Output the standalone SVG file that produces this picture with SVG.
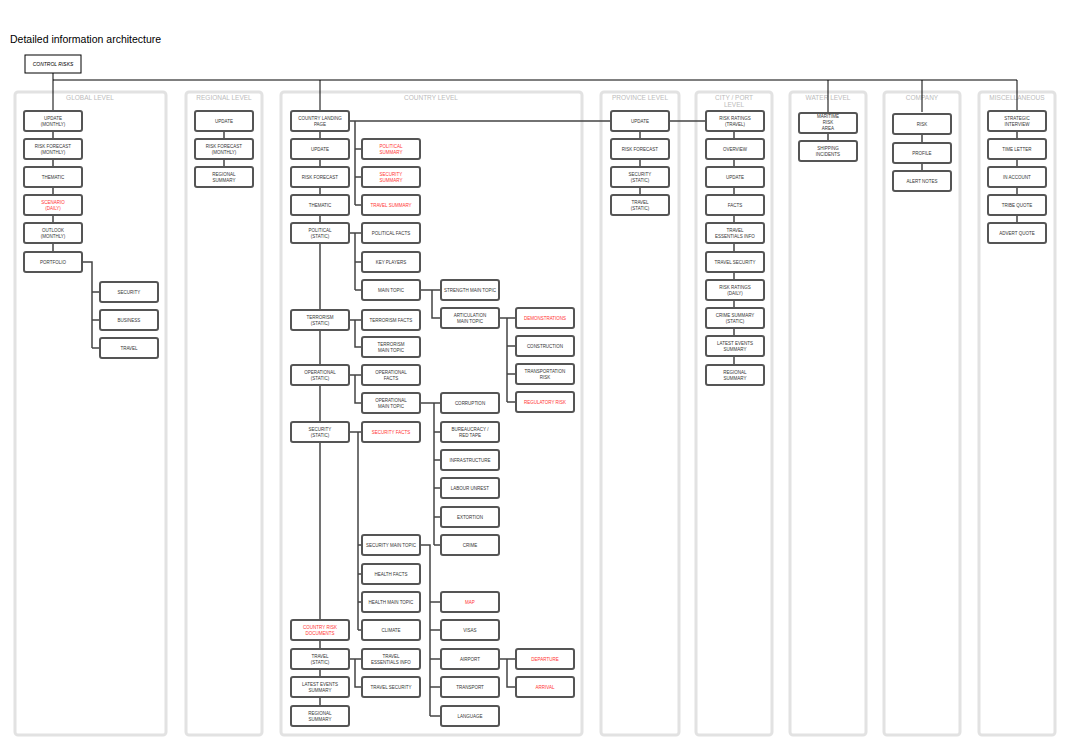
<svg xmlns="http://www.w3.org/2000/svg" width="1070" height="748" viewBox="0 0 1070 748">
<style>
.col{fill:#fff;stroke:#e2e2e2;stroke-width:3}
.hd{font-family:"Liberation Sans",Arial,sans-serif;font-size:6.5px;fill:#bbb;text-anchor:middle}
.n{fill:#fff;stroke:#555;stroke-width:2}
.t{font-family:"Liberation Sans",Arial,sans-serif;font-size:4.5px;fill:#333;text-anchor:middle}
.r{fill:#f33}
.c{fill:none;stroke:#444;stroke-width:1.5}
.k{fill:none;stroke:#000;stroke-width:1}
</style>
<rect width="1070" height="748" fill="#fff"/>
<text x="10" y="43" font-family="Liberation Sans,Arial,sans-serif" font-size="10.5">Detailed information architecture</text>
<g id="cols">
<rect class="col" x="15" y="92" width="151" height="643" rx="3"/><text class="hd" x="90" y="100">GLOBAL LEVEL</text>
<rect class="col" x="186" y="92" width="76" height="643" rx="3"/><text class="hd" x="224" y="100">REGIONAL LEVEL</text>
<rect class="col" x="281" y="92" width="301" height="643" rx="3"/><text class="hd" x="431" y="100">COUNTRY LEVEL</text>
<rect class="col" x="601" y="92" width="78" height="643" rx="3"/><text class="hd" x="640" y="100">PROVINCE LEVEL</text>
<rect class="col" x="696" y="92" width="76" height="643" rx="3"/><text class="hd" x="734" y="100">CITY / PORT</text><text class="hd" x="734" y="107">LEVEL</text>
<rect class="col" x="790" y="92" width="76" height="643" rx="3"/><text class="hd" x="828" y="100">WATER LEVEL</text>
<rect class="col" x="884" y="92" width="76" height="643" rx="3"/><text class="hd" x="922" y="100">COMPANY</text>
<rect class="col" x="979" y="92" width="76" height="643" rx="3"/><text class="hd" x="1017" y="100">MISCELLANEOUS</text>
</g>
<g id="connectors">
<path class="k" d="M53 73V112M53 80H1017M320 80V112M828 80V112M922 80V112M1017 80V112"/>
<path class="c" d="M53 121V262M82 262H92V348M92 292H100M92 320H100M92 348H100"/>
<path class="c" d="M224 121V177"/>
<path class="c" d="M320 121V716M349 121H706M355 121V205M355 149H362M355 177H362M355 205H362"/>
<path class="c" d="M349 233H355V290M355 233H362M355 262H362M355 290H362M420 290H432V318H441M432 290H441M499 318H507V402M507 318H516M507 346H516M507 374H516M507 402H516"/>
<path class="c" d="M349 320H355V347H362M355 320H362"/>
<path class="c" d="M349 375H355V403H362M355 375H362M420 403H434V545M434 403H441M434 432H441M434 460H441M434 488H441M434 517H441M434 545H441"/>
<path class="c" d="M349 432H358V630M358 432H362M358 545H362M358 574H362M358 602H362M358 630H362M420 545H430V716M430 602H441M430 630H441M430 659H441M430 687H441M430 716H441M499 659H507V687H516M507 659H516"/>
<path class="c" d="M349 659H355V687H362M355 659H362"/>
<path class="c" d="M640 121V205M734 121V375M828 121V149M922 121V177M1017 121V233"/>
</g>
<g id="n-control"><rect x="25" y="55" width="56" height="18" fill="#fff" stroke="#000" stroke-width="1"/><text x="53" y="66" font-family="Liberation Sans,Arial,sans-serif" font-size="5" font-style="italic" text-anchor="middle">CONTROL RISKS</text></g>
<g id="g1"><rect class="n" x="24" y="111" width="58" height="20" rx="2"/><text class="t" x="53" y="120">UPDATE</text><text class="t" x="53" y="126">(MONTHLY)</text></g>
<g id="g2"><rect class="n" x="24" y="139" width="58" height="20" rx="2"/><text class="t" x="53" y="148">RISK FORECAST</text><text class="t" x="53" y="154">(MONTHLY)</text></g>
<g id="g3"><rect class="n" x="24" y="167" width="58" height="20" rx="2"/><text class="t" x="53" y="179">THEMATIC</text></g>
<g id="g4"><rect class="n" x="24" y="195" width="58" height="20" rx="2"/><text class="t r" x="53" y="204">SCENARIO</text><text class="t r" x="53" y="210">(DAILY)</text></g>
<g id="g5"><rect class="n" x="24" y="223" width="58" height="20" rx="2"/><text class="t" x="53" y="232">OUTLOOK</text><text class="t" x="53" y="238">(MONTHLY)</text></g>
<g id="g6"><rect class="n" x="24" y="252" width="58" height="20" rx="2"/><text class="t" x="53" y="264">PORTFOLIO</text></g>
<g id="g7"><rect class="n" x="100" y="282" width="58" height="20" rx="2"/><text class="t" x="129" y="294">SECURITY</text></g>
<g id="g8"><rect class="n" x="100" y="310" width="58" height="20" rx="2"/><text class="t" x="129" y="322">BUSINESS</text></g>
<g id="g9"><rect class="n" x="100" y="338" width="58" height="20" rx="2"/><text class="t" x="129" y="350">TRAVEL</text></g>
<g id="r1"><rect class="n" x="195" y="111" width="58" height="20" rx="2"/><text class="t" x="224" y="123">UPDATE</text></g>
<g id="r2"><rect class="n" x="195" y="139" width="58" height="20" rx="2"/><text class="t" x="224" y="148">RISK FORECAST</text><text class="t" x="224" y="154">(MONTHLY)</text></g>
<g id="r3"><rect class="n" x="195" y="167" width="58" height="20" rx="2"/><text class="t" x="224" y="176">REGIONAL</text><text class="t" x="224" y="182">SUMMARY</text></g>
<g id="c1"><rect class="n" x="291" y="111" width="58" height="20" rx="2"/><text class="t" x="320" y="120">COUNTRY LANDING</text><text class="t" x="320" y="126">PAGE</text></g>
<g id="c2"><rect class="n" x="291" y="139" width="58" height="20" rx="2"/><text class="t" x="320" y="151">UPDATE</text></g>
<g id="c3"><rect class="n" x="291" y="167" width="58" height="20" rx="2"/><text class="t" x="320" y="179">RISK FORECAST</text></g>
<g id="c4"><rect class="n" x="291" y="195" width="58" height="20" rx="2"/><text class="t" x="320" y="207">THEMATIC</text></g>
<g id="c5"><rect class="n" x="291" y="223" width="58" height="20" rx="2"/><text class="t" x="320" y="232">POLITICAL</text><text class="t" x="320" y="238">(STATIC)</text></g>
<g id="c6"><rect class="n" x="291" y="310" width="58" height="20" rx="2"/><text class="t" x="320" y="319">TERRORISM</text><text class="t" x="320" y="325">(STATIC)</text></g>
<g id="c7"><rect class="n" x="291" y="365" width="58" height="20" rx="2"/><text class="t" x="320" y="374">OPERATIONAL</text><text class="t" x="320" y="380">(STATIC)</text></g>
<g id="c8"><rect class="n" x="291" y="422" width="58" height="20" rx="2"/><text class="t" x="320" y="431">SECURITY</text><text class="t" x="320" y="437">(STATIC)</text></g>
<g id="c9"><rect class="n" x="291" y="620" width="58" height="20" rx="2"/><text class="t r" x="320" y="629">COUNTRY RISK</text><text class="t r" x="320" y="635">DOCUMENTS</text></g>
<g id="c10"><rect class="n" x="291" y="649" width="58" height="20" rx="2"/><text class="t" x="320" y="658">TRAVEL</text><text class="t" x="320" y="664">(STATIC)</text></g>
<g id="c11"><rect class="n" x="291" y="677" width="58" height="20" rx="2"/><text class="t" x="320" y="686">LATEST EVENTS</text><text class="t" x="320" y="692">SUMMARY</text></g>
<g id="c12"><rect class="n" x="291" y="706" width="58" height="20" rx="2"/><text class="t" x="320" y="715">REGIONAL</text><text class="t" x="320" y="721">SUMMARY</text></g>
<g id="d1"><rect class="n" x="362" y="139" width="58" height="20" rx="2"/><text class="t r" x="391" y="148">POLITICAL</text><text class="t r" x="391" y="154">SUMMARY</text></g>
<g id="d2"><rect class="n" x="362" y="167" width="58" height="20" rx="2"/><text class="t r" x="391" y="176">SECURITY</text><text class="t r" x="391" y="182">SUMMARY</text></g>
<g id="d3"><rect class="n" x="362" y="195" width="58" height="20" rx="2"/><text class="t r" x="391" y="207">TRAVEL SUMMARY</text></g>
<g id="d4"><rect class="n" x="362" y="223" width="58" height="20" rx="2"/><text class="t" x="391" y="235">POLITICAL FACTS</text></g>
<g id="d5"><rect class="n" x="362" y="252" width="58" height="20" rx="2"/><text class="t" x="391" y="264">KEY PLAYERS</text></g>
<g id="d6"><rect class="n" x="362" y="280" width="58" height="20" rx="2"/><text class="t" x="391" y="292">MAIN TOPIC</text></g>
<g id="d7"><rect class="n" x="362" y="310" width="58" height="20" rx="2"/><text class="t" x="391" y="322">TERRORISM FACTS</text></g>
<g id="d8"><rect class="n" x="362" y="337" width="58" height="20" rx="2"/><text class="t" x="391" y="346">TERRORISM</text><text class="t" x="391" y="352">MAIN TOPIC</text></g>
<g id="d9"><rect class="n" x="362" y="365" width="58" height="20" rx="2"/><text class="t" x="391" y="374">OPERATIONAL</text><text class="t" x="391" y="380">FACTS</text></g>
<g id="d10"><rect class="n" x="362" y="393" width="58" height="20" rx="2"/><text class="t" x="391" y="402">OPERATIONAL</text><text class="t" x="391" y="408">MAIN TOPIC</text></g>
<g id="d11"><rect class="n" x="362" y="422" width="58" height="20" rx="2"/><text class="t r" x="391" y="434">SECURITY FACTS</text></g>
<g id="d12"><rect class="n" x="362" y="535" width="58" height="20" rx="2"/><text class="t" x="391" y="547">SECURITY MAIN TOPIC</text></g>
<g id="d13"><rect class="n" x="362" y="564" width="58" height="20" rx="2"/><text class="t" x="391" y="576">HEALTH FACTS</text></g>
<g id="d14"><rect class="n" x="362" y="592" width="58" height="20" rx="2"/><text class="t" x="391" y="604">HEALTH MAIN TOPIC</text></g>
<g id="d15"><rect class="n" x="362" y="620" width="58" height="20" rx="2"/><text class="t" x="391" y="632">CLIMATE</text></g>
<g id="d16"><rect class="n" x="362" y="649" width="58" height="20" rx="2"/><text class="t" x="391" y="658">TRAVEL</text><text class="t" x="391" y="664">ESSENTIALS INFO</text></g>
<g id="d17"><rect class="n" x="362" y="677" width="58" height="20" rx="2"/><text class="t" x="391" y="689">TRAVEL SECURITY</text></g>
<g id="e1"><rect class="n" x="441" y="280" width="58" height="20" rx="2"/><text class="t" x="470" y="292">STRENGTH MAIN TOPIC</text></g>
<g id="e2"><rect class="n" x="441" y="308" width="58" height="20" rx="2"/><text class="t" x="470" y="317">ARTICULATION</text><text class="t" x="470" y="323">MAIN TOPIC</text></g>
<g id="e3"><rect class="n" x="441" y="393" width="58" height="20" rx="2"/><text class="t" x="470" y="405">CORRUPTION</text></g>
<g id="e4"><rect class="n" x="441" y="422" width="58" height="20" rx="2"/><text class="t" x="470" y="431">BUREAUCRACY /</text><text class="t" x="470" y="437">RED TAPE</text></g>
<g id="e5"><rect class="n" x="441" y="450" width="58" height="20" rx="2"/><text class="t" x="470" y="462">INFRASTRUCTURE</text></g>
<g id="e6"><rect class="n" x="441" y="478" width="58" height="20" rx="2"/><text class="t" x="470" y="490">LABOUR UNREST</text></g>
<g id="e7"><rect class="n" x="441" y="507" width="58" height="20" rx="2"/><text class="t" x="470" y="519">EXTORTION</text></g>
<g id="e8"><rect class="n" x="441" y="535" width="58" height="20" rx="2"/><text class="t" x="470" y="547">CRIME</text></g>
<g id="e9"><rect class="n" x="441" y="592" width="58" height="20" rx="2"/><text class="t r" x="470" y="604">MAP</text></g>
<g id="e10"><rect class="n" x="441" y="620" width="58" height="20" rx="2"/><text class="t" x="470" y="632">VISAS</text></g>
<g id="e11"><rect class="n" x="441" y="649" width="58" height="20" rx="2"/><text class="t" x="470" y="661">AIRPORT</text></g>
<g id="e12"><rect class="n" x="441" y="677" width="58" height="20" rx="2"/><text class="t" x="470" y="689">TRANSPORT</text></g>
<g id="e13"><rect class="n" x="441" y="706" width="58" height="20" rx="2"/><text class="t" x="470" y="718">LANGUAGE</text></g>
<g id="f1"><rect class="n" x="516" y="308" width="58" height="20" rx="2"/><text class="t r" x="545" y="320">DEMONSTRATIONS</text></g>
<g id="f2"><rect class="n" x="516" y="336" width="58" height="20" rx="2"/><text class="t" x="545" y="348">CONSTRUCTION</text></g>
<g id="f3"><rect class="n" x="516" y="364" width="58" height="20" rx="2"/><text class="t" x="545" y="373">TRANSPORTATION</text><text class="t" x="545" y="379">RISK</text></g>
<g id="f4"><rect class="n" x="516" y="392" width="58" height="20" rx="2"/><text class="t r" x="545" y="404">REGULATORY RISK</text></g>
<g id="f5"><rect class="n" x="516" y="649" width="58" height="20" rx="2"/><text class="t r" x="545" y="661">DEPARTURE</text></g>
<g id="f6"><rect class="n" x="516" y="677" width="58" height="20" rx="2"/><text class="t r" x="545" y="689">ARRIVAL</text></g>
<g id="p1"><rect class="n" x="611" y="111" width="58" height="20" rx="2"/><text class="t" x="640" y="123">UPDATE</text></g>
<g id="p2"><rect class="n" x="611" y="139" width="58" height="20" rx="2"/><text class="t" x="640" y="151">RISK FORECAST</text></g>
<g id="p3"><rect class="n" x="611" y="167" width="58" height="20" rx="2"/><text class="t" x="640" y="176">SECURITY</text><text class="t" x="640" y="182">(STATIC)</text></g>
<g id="p4"><rect class="n" x="611" y="195" width="58" height="20" rx="2"/><text class="t" x="640" y="204">TRAVEL</text><text class="t" x="640" y="210">(STATIC)</text></g>
<g id="y1"><rect class="n" x="706" y="111" width="58" height="20" rx="2"/><text class="t" x="735" y="120">RISK RATINGS</text><text class="t" x="735" y="126">(TRAVEL)</text></g>
<g id="y2"><rect class="n" x="706" y="139" width="58" height="20" rx="2"/><text class="t" x="735" y="151">OVERVIEW</text></g>
<g id="y3"><rect class="n" x="706" y="167" width="58" height="20" rx="2"/><text class="t" x="735" y="179">UPDATE</text></g>
<g id="y4"><rect class="n" x="706" y="195" width="58" height="20" rx="2"/><text class="t" x="735" y="207">FACTS</text></g>
<g id="y5"><rect class="n" x="706" y="223" width="58" height="20" rx="2"/><text class="t" x="735" y="232">TRAVEL</text><text class="t" x="735" y="238">ESSENTIALS INFO</text></g>
<g id="y6"><rect class="n" x="706" y="252" width="58" height="20" rx="2"/><text class="t" x="735" y="264">TRAVEL SECURITY</text></g>
<g id="y7"><rect class="n" x="706" y="280" width="58" height="20" rx="2"/><text class="t" x="735" y="289">RISK RATINGS</text><text class="t" x="735" y="295">(DAILY)</text></g>
<g id="y8"><rect class="n" x="706" y="308" width="58" height="20" rx="2"/><text class="t" x="735" y="317">CRIME SUMMARY</text><text class="t" x="735" y="323">(STATIC)</text></g>
<g id="y9"><rect class="n" x="706" y="336" width="58" height="20" rx="2"/><text class="t" x="735" y="345">LATEST EVENTS</text><text class="t" x="735" y="351">SUMMARY</text></g>
<g id="y10"><rect class="n" x="706" y="365" width="58" height="20" rx="2"/><text class="t" x="735" y="374">REGIONAL</text><text class="t" x="735" y="380">SUMMARY</text></g>
<g id="w1"><rect class="n" x="799" y="113" width="58" height="20" rx="2"/><text class="t" x="828" y="118">MARITIME</text><text class="t" x="828" y="124">RISK</text><text class="t" x="828" y="130">AREA</text></g>
<g id="w2"><rect class="n" x="799" y="141" width="58" height="20" rx="2"/><text class="t" x="828" y="150">SHIPPING</text><text class="t" x="828" y="156">INCIDENTS</text></g>
<g id="m1"><rect class="n" x="893" y="114" width="58" height="20" rx="2"/><text class="t" x="922" y="126">RISK</text></g>
<g id="m2"><rect class="n" x="893" y="143" width="58" height="20" rx="2"/><text class="t" x="922" y="155">PROFILE</text></g>
<g id="m3"><rect class="n" x="893" y="171" width="58" height="20" rx="2"/><text class="t" x="922" y="183">ALERT NOTES</text></g>
<g id="x1"><rect class="n" x="988" y="111" width="58" height="20" rx="2"/><text class="t" x="1017" y="120">STRATEGIC</text><text class="t" x="1017" y="126">INTERVIEW</text></g>
<g id="x2"><rect class="n" x="988" y="139" width="58" height="20" rx="2"/><text class="t" x="1017" y="151">TIME LETTER</text></g>
<g id="x3"><rect class="n" x="988" y="167" width="58" height="20" rx="2"/><text class="t" x="1017" y="179">IN ACCOUNT</text></g>
<g id="x4"><rect class="n" x="988" y="195" width="58" height="20" rx="2"/><text class="t" x="1017" y="207">TRIBE QUOTE</text></g>
<g id="x5"><rect class="n" x="988" y="223" width="58" height="20" rx="2"/><text class="t" x="1017" y="235">ADVERT QUOTE</text></g>
</svg>
